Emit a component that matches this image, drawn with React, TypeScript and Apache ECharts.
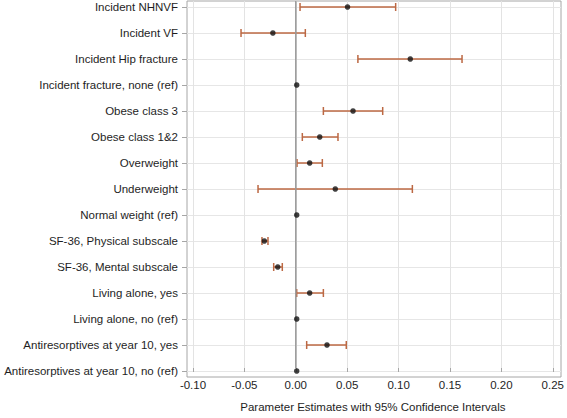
import React, { useEffect, useRef } from "react";
import * as echarts from "echarts";

const categories = [
  "Incident NHNVF",
  "Incident VF",
  "Incident Hip fracture",
  "Incident fracture, none (ref)",
  "Obese class 3",
  "Obese class 1&2",
  "Overweight",
  "Underweight",
  "Normal weight (ref)",
  "SF-36, Physical subscale",
  "SF-36, Mental subscale",
  "Living alone, yes",
  "Living alone, no (ref)",
  "Antiresorptives at year 10, yes",
  "Antiresorptives at year 10, no (ref)",
];

const estimates = [
  0.049, -0.023, 0.1095, 0, 0.0543, 0.0222, 0.0125, 0.0372, 0, -0.0312, -0.0183, 0.0125, 0, 0.0292, 0,
];
const lowerCI = [
  0.0032, -0.0537, 0.059, null, 0.0257, 0.0054, 0.0003, -0.0373, null, -0.0335, -0.0222, 0.0, null, 0.0096, null,
];
const upperCI = [
  0.0954, 0.0083, 0.1594, null, 0.0829, 0.0398, 0.0247, 0.1115, null, -0.0277, -0.0139, 0.0257, null, 0.0478, null,
];

const xTickMin = -0.1;
const xTickMax = 0.25;
const xTickStep = 0.05;
const xTitle = "Parameter Estimates with 95% Confidence Intervals";
const zeroLine = [
  [0, 0],
  [0, 1],
];

const FONT = "'Liberation Sans', Arial, sans-serif";
const BAR_COLOR = "#BC6843";
const TEXT = "#1e1e1e";

export default function App() {
  const ref = useRef<HTMLDivElement>(null);

  useEffect(() => {
    if (!ref.current) return;
    const chart = echarts.init(ref.current, undefined, { renderer: "svg" });

    const barData = categories
      .map((_, i) =>
        lowerCI[i] == null || upperCI[i] == null ? null : [lowerCI[i], upperCI[i], i]
      )
      .filter((d) => d !== null);

    const pointData = estimates.map((v, i) => [v, i]);

    const hiddenValueAxis = (gridIndex: number, extra: any = {}) => ({
      type: "value",
      gridIndex,
      show: false,
      splitLine: { show: false },
      ...extra,
    });

    chart.setOption({
      animation: false,
      textStyle: { fontFamily: FONT },
      grid: [
        { left: 193, right: 11, top: 7, bottom: 47 },
        { left: 187, right: 6, top: 7, bottom: 47 },
        { left: 193, right: 11, top: 1, bottom: 41 },
        {
          left: 187,
          right: 6,
          top: 1,
          bottom: 41,
          show: true,
          borderColor: "#a6a6a6",
          borderWidth: 1,
          backgroundColor: "transparent",
        },
      ],
      xAxis: [
        hiddenValueAxis(0, { min: xTickMin, max: xTickMax }),
        hiddenValueAxis(1, { min: 0, max: 1 }),
        {
          type: "value",
          gridIndex: 2,
          min: xTickMin,
          max: xTickMax,
          interval: xTickStep,
          axisLine: { show: false },
          axisTick: { show: true, length: 4, lineStyle: { color: "#a6a6a6" } },
          axisLabel: {
            margin: 11,
            fontSize: 11.5,
            color: TEXT,
            fontFamily: FONT,
            formatter: (v: number) => v.toFixed(2),
          },
          splitLine: { show: true, lineStyle: { color: "#e3e3e3", width: 1 } },
          name: xTitle,
          nameLocation: "middle",
          nameGap: 33,
          nameTextStyle: { fontSize: 11.5, color: TEXT, fontFamily: FONT },
        },
        hiddenValueAxis(3, { min: 0, max: 1 }),
      ],
      yAxis: [
        {
          type: "category",
          gridIndex: 0,
          data: categories,
          inverse: true,
          boundaryGap: false,
          show: false,
        },
        {
          type: "category",
          gridIndex: 1,
          data: categories,
          inverse: true,
          boundaryGap: false,
          axisLine: { show: false },
          axisTick: { show: true, length: 5, lineStyle: { color: "#a6a6a6" } },
          axisLabel: {
            margin: 9,
            fontSize: 11.5,
            color: TEXT,
            fontFamily: FONT,
          },
          splitLine: { show: true, lineStyle: { color: "#e6e6e6", width: 1 } },
        },
        hiddenValueAxis(2, { min: 0, max: 1 }),
        hiddenValueAxis(3, { min: 0, max: 1 }),
      ],
      series: [
        {
          type: "line",
          xAxisIndex: 2,
          yAxisIndex: 2,
          data: zeroLine,
          symbol: "none",
          lineStyle: { color: "#999", width: 1.5 },
          silent: true,
        },
        {
          type: "custom",
          xAxisIndex: 0,
          yAxisIndex: 0,
          data: barData,
          encode: { x: [0, 1], y: 2 },
          renderItem: (params: any, api: any) => {
            const lo = api.coord([api.value(0), api.value(2)]);
            const hi = api.coord([api.value(1), api.value(2)]);
            const h = 4;
            const style = { stroke: BAR_COLOR, lineWidth: 1.5, fill: "none" };
            return {
              type: "group",
              children: [
                { type: "line", shape: { x1: lo[0], y1: lo[1], x2: hi[0], y2: hi[1] }, style },
                { type: "line", shape: { x1: lo[0], y1: lo[1] - h, x2: lo[0], y2: lo[1] + h }, style },
                { type: "line", shape: { x1: hi[0], y1: hi[1] - h, x2: hi[0], y2: hi[1] + h }, style },
              ],
            };
          },
          z: 3,
        },
        {
          type: "scatter",
          xAxisIndex: 0,
          yAxisIndex: 0,
          data: pointData,
          symbol: "circle",
          symbolSize: 5.5,
          itemStyle: { color: "#111" },
          z: 4,
        },
      ],
    });

    return () => chart.dispose();
  }, []);

  return (
    <div
      ref={ref}
      style={{ position: "fixed", left: 0, top: 0, width: 567, height: 418, background: "#fff" }}
    />
  );
}
